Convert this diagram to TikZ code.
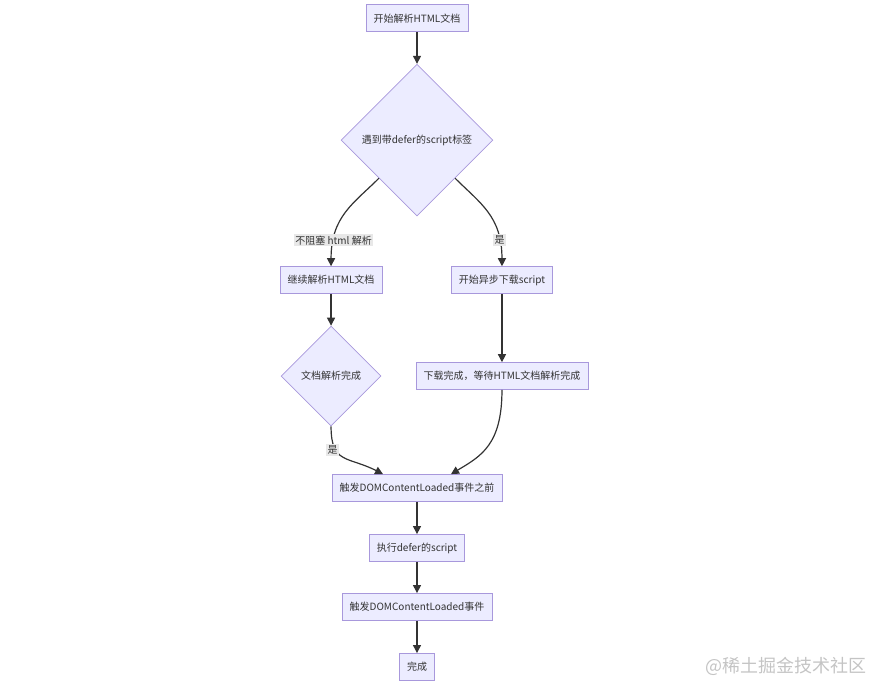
\documentclass[tikz,border=0pt]{standalone}
\usepackage{fontspec}
\setmainfont{Noto Sans CJK SC}
\usetikzlibrary{shapes.geometric, arrows.meta}

\definecolor{boxfill}{HTML}{ECECFF}
\definecolor{boxline}{HTML}{A898DC}
\definecolor{edgeline}{HTML}{333333}
\definecolor{lblfill}{HTML}{E8E8E8}
\definecolor{wmgray}{HTML}{C4C4C4}

\begin{document}
\begin{tikzpicture}[x=1pt, y=-1pt, font=\fontsize{10}{12}\selectfont]
    \draw [white] (0, 0) rectangle (871, 685); % bounding box

    % steps
    \begin{scope}[every node/.style={draw=boxline, fill=boxfill, line width=0.7pt, rectangle, minimum height=27pt, inner xsep=7.5pt, text=edgeline}]
        \node at (417,  18) (start)  {开始解析HTML文档};
        \node at (331, 280) (cont)   {继续解析HTML文档};
        \node at (502, 280) (dl)     {开始异步下载script};
        \node at (502, 376) (dldone) {下载完成，等待HTML文档解析完成};
        \node at (417, 488) (before) {触发DOMContentLoaded事件之前};
        \node at (417, 548) (exec)   {执行defer的script};
        \node at (417, 607) (fire)   {触发DOMContentLoaded事件};
        \node at (417, 667) (done)   {完成};
    \end{scope}

    % decisions
    \begin{scope}[every node/.style={draw=boxline, fill=boxfill, line width=0.7pt, diamond, inner sep=0pt, text=edgeline}]
        \node at (417, 140) [minimum size=152pt] (defer)  {遇到带defer的script标签};
        \node at (331, 376) [minimum size=100pt] (parsed) {文档解析完成};
    \end{scope}

    % flow
    \begin{scope}[every path/.style={line width=1.2pt, draw=edgeline, -{Triangle[length=8pt, width=8pt]}},
                  every node/.style={fill=lblfill, inner sep=1.5pt, text=edgeline}]
        \draw (start.south)      -- (defer.north);
        \draw (defer.south west) .. controls +(-25, 25) and +(0, -50) .. (cont.north) node [pos=0.8] {不阻塞 html 解析};
        \draw (defer.south east) .. controls +( 25, 25) and +(0, -50) .. (dl.north)   node [pos=0.8] {是};
        \draw (cont.south)       -- (parsed.north);
        \draw (dl.south)         -- (dldone.north);
        \draw (parsed.south)     .. controls +(0, 38) and +(-35, -18) .. ([xshift=-34pt]before.north) node [pos=0.3, xshift=-3pt] {是};
        \draw (dldone.south)     .. controls +(0, 55) and +( 30, -18) .. ([xshift=34pt]before.north);
        \draw (before.south)     -- (exec.north);
        \draw (exec.south)       -- (fire.north);
        \draw (fire.south)       -- (done.north);
    \end{scope}

    % watermark
    \node at (786, 667) [text=wmgray, font=\fontsize{18}{20}\selectfont] (wm) {@稀土掘金技术社区};
\end{tikzpicture}
\end{document}
